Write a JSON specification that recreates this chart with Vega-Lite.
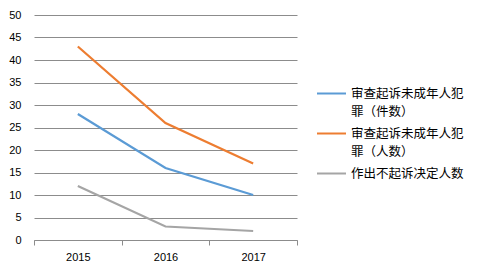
{
  "$schema": "https://vega.github.io/schema/vega-lite/v6.json",
  "width": 263,
  "height": 225,
  "autosize": {"type": "none"},
  "padding": {"left": 34, "top": 15, "right": 185, "bottom": 36},
  "background": "white",
  "config": {
    "view": {"stroke": null},
    "font": "Noto Sans CJK SC",
    "style": {"guide-label": {"lineHeight": 18}}
  },
  "data": {
    "values": [
      {"year": "2015", "series": "审查起诉未成年人犯罪（件数）", "value": 28},
      {"year": "2016", "series": "审查起诉未成年人犯罪（件数）", "value": 16},
      {"year": "2017", "series": "审查起诉未成年人犯罪（件数）", "value": 10},
      {"year": "2015", "series": "审查起诉未成年人犯罪（人数）", "value": 43},
      {"year": "2016", "series": "审查起诉未成年人犯罪（人数）", "value": 26},
      {"year": "2017", "series": "审查起诉未成年人犯罪（人数）", "value": 17},
      {"year": "2015", "series": "作出不起诉决定人数", "value": 12},
      {"year": "2016", "series": "作出不起诉决定人数", "value": 3},
      {"year": "2017", "series": "作出不起诉决定人数", "value": 2}
    ]
  },
  "mark": {"type": "line", "strokeWidth": 2.25},
  "encoding": {
    "x": {
      "field": "year",
      "type": "nominal",
      "scale": {"paddingInner": 0, "paddingOuter": 0},
      "axis": {
        "title": null,
        "labelAngle": 0,
        "tickBand": "extent",
        "tickSize": 5,
        "tickColor": "#8c8c8c",
        "domainColor": "#8c8c8c",
        "grid": false,
        "labelFont": "Liberation Sans",
        "labelFontSize": 11,
        "labelColor": "#000",
        "labelPadding": 6
      }
    },
    "y": {
      "field": "value",
      "type": "quantitative",
      "scale": {"domain": [0, 50], "nice": false},
      "axis": {
        "title": null,
        "values": [0, 5, 10, 15, 20, 25, 30, 35, 40, 45, 50],
        "domain": false,
        "ticks": false,
        "grid": true,
        "gridColor": "#8c8c8c",
        "gridWidth": 1,
        "labelFont": "Liberation Sans",
        "labelFontSize": 11,
        "labelColor": "#000",
        "labelPadding": 13
      }
    },
    "color": {
      "field": "series",
      "type": "nominal",
      "scale": {
        "domain": ["审查起诉未成年人犯罪（件数）", "审查起诉未成年人犯罪（人数）", "作出不起诉决定人数"],
        "range": ["#5B9BD5", "#ED7D31", "#A5A5A5"]
      },
      "legend": {
        "title": null,
        "orient": "none",
        "legendX": 282,
        "legendY": 63,
        "symbolType": "stroke",
        "symbolSize": 841,
        "symbolStrokeWidth": 2,
        "labelFont": "Noto Sans CJK SC",
        "labelFontSize": 12.5,
        "labelColor": "#000",
        "labelOffset": 4,
        "labelLimit": 200,
        "rowPadding": -3,
        "labelExpr": "length(datum.label) > 10 ? [substring(datum.label, 0, 9), substring(datum.label, 9)] : datum.label"
      }
    }
  }
}
